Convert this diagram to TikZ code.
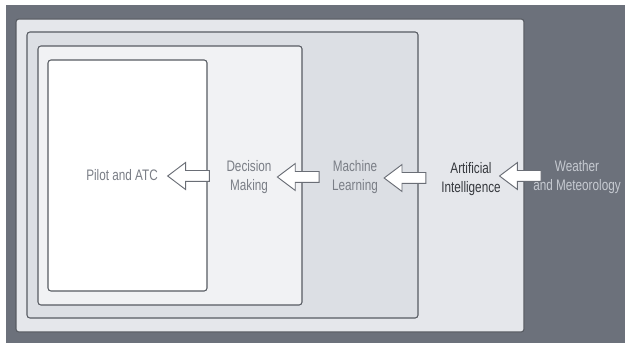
\documentclass[tikz,border=0pt]{standalone}
\usepackage{fontspec}
\setmainfont{Liberation Sans}[FakeStretch=0.77]
\usetikzlibrary{shapes.arrows,calc}
\definecolor{bgdark}{HTML}{6C717B}
\definecolor{boxline}{HTML}{575B62}
\definecolor{aifill}{HTML}{E5E7EB}
\definecolor{mlfill}{HTML}{DCDFE4}
\definecolor{dmfill}{HTML}{F1F2F4}
\definecolor{txtgray}{HTML}{7A7E86}
\definecolor{txtdark}{HTML}{35383D}
\definecolor{txtlight}{HTML}{C6CAD1}
\definecolor{arrowline}{HTML}{6A6E76}
\begin{document}
\begin{tikzpicture}[x=0.03cm,y=-0.03cm]
      \tikzset{layer/.style={draw=boxline, line width=0.9pt, rounded corners=2.5pt},
               stagetext/.style={align=center, font=\fontsize{13}{15.5}\selectfont, text=txtgray},
               flow/.style={single arrow, draw=arrowline, fill=white, line width=0.8pt, shape border rotate=180,
                 minimum height=1.25cm, inner xsep=0pt, inner ysep=0.15cm, single arrow head extend=0.24cm,
                 single arrow tip angle=74}}
%% Frame
      \fill[white] (0,0) rectangle (625,343);
      \fill[bgdark] (6,5) rectangle (625,343);
%% Layers
      \draw[layer, fill=aifill] (16,19) rectangle (524,332);
      \draw[layer, fill=mlfill] (27,32) rectangle (418,318);
      \draw[layer, fill=dmfill] (38,46) rectangle (302,305);
      \draw[layer, fill=white] (48,60) rectangle (207,291);
%% Stages
      \node[stagetext] (pilot) at (122,175) {Pilot and ATC};
      \node[stagetext] (dm) at (249,177) {Decision\\Making};
      \node[stagetext] (ml) at (355,177) {Machine\\Learning};
      \node[stagetext, text=txtdark] (ai) at (471,179) {Artificial\\Intelligence};
      \node[stagetext, text=txtlight] (wm) at (577,177) {Weather\\and Meteorology};
%% Arrows
      \node[flow] (a4) at ($(ai.east)!0.5!(wm.west)+(7,-2)$) {};
      \node[flow] (a3) at ($(ml.east)!0.5!(ai.west)+(-1,0)$) {};
      \node[flow] (a2) at ($(dm.east)!0.5!(ml.west)$) {};
      \node[flow] (a1) at ($(pilot.east)!0.5!(dm.west)$) {};
\end{tikzpicture}
\end{document}
